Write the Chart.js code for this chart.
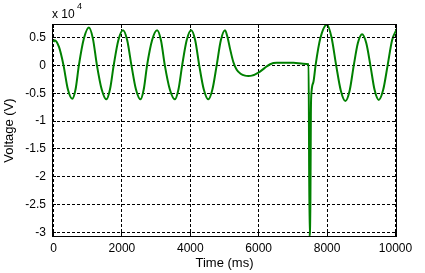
<!DOCTYPE html>
<html>
<head>
<meta charset="utf-8">
<script src="https://cdn.jsdelivr.net/npm/chart.js@4/dist/chart.umd.min.js"></script>
<style>
  html, body { margin: 0; padding: 0; background: #fff; }
  canvas { display: block; }
</style>
</head>
<body>
<canvas id="grafico" width="425" height="273"></canvas>
<script>
// tempo (ms)
var tempo = [
  0, 30, 160, 293, 420, 548, 645, 742, 888, 1035,
  1152, 1270, 1408, 1545, 1652, 1760, 1896, 2032,
  2155, 2279, 2410, 2542, 2639, 2736, 2882, 3029,
  3142, 3255, 3400, 3548, 3655, 3762, 3894, 4026,
  4143, 4261, 4393, 4525, 4648, 4771, 4893, 5015,
  5090, 5161, 5258, 5357, 5470, 5601, 5700, 5797, 5992, 6170, 6334, 6530,
  7018, 7300, 7458, 7487, 7512, 7525, 7535,
  7600, 7663, 7800, 7996, 8130, 8265, 8400, 8534,
  8660, 8780, 8900, 9023, 9145, 9266, 9388, 9510,
  9640, 9770, 9900, 10044
];
// tensione (x 10^4 V)
var tensione = [
  0.42, 0.45, 0.33, 0, -0.43, -0.60, -0.43, 0, 0.48, 0.68,
  0.48, 0, -0.43, -0.61, -0.43, 0, 0.45, 0.63,
  0.45, 0, -0.43, -0.61, -0.43, 0, 0.45, 0.63,
  0.45, 0, -0.43, -0.61, -0.43, 0, 0.45, 0.63,
  0.45, 0, -0.43, -0.61, -0.43, 0, 0.45, 0.63,
  0.50, 0.30, 0.06, -0.08, -0.15, -0.185, -0.19, -0.185, -0.13, -0.05, 0.02, 0.045,
  0.045, 0.03, 0.02, -3.07, -2.43, -0.90, -0.56,
  -0.30, 0, 0.48, 0.73, 0.50, 0, -0.45, -0.64,
  -0.45, 0, 0.40, 0.56, 0.40, 0, -0.44, -0.62,
  -0.44, 0, 0.45, 0.66
];
var tickX = [0, 2000, 4000, 6000, 8000, 10000];
var tickY = [-3, -2.5, -2, -1.5, -1, -0.5, 0, 0.5];

var FONT = '"Liberation Sans", Arial, sans-serif';

function punti(xs, ys) {
  var out = [];
  for (var i = 0; i < xs.length; i++) out.push({ x: xs[i], y: ys[i] });
  return out;
}

// cornice, tacche e "x 10^4"
var cornice = {
  id: 'cornice',
  afterDraw: function (chart) {
    var ctx = chart.ctx, a = chart.chartArea;
    var sx = chart.scales.x, sy = chart.scales.y;
    ctx.save();
    ctx.strokeStyle = '#000';
    ctx.lineWidth = 1;
    ctx.setLineDash([]);
    ctx.strokeRect(a.left + 0.5, a.top + 0.5, a.right - a.left - 1, a.bottom - a.top - 1);
    ctx.beginPath();
    tickX.forEach(function (v) {
      var p = Math.floor(sx.getPixelForValue(v)) + 0.5;
      ctx.moveTo(p, a.bottom - 1); ctx.lineTo(p, a.bottom - 5);
      ctx.moveTo(p, a.top); ctx.lineTo(p, a.top + 4);
    });
    tickY.forEach(function (v) {
      var p = Math.floor(sy.getPixelForValue(v)) + 0.5;
      ctx.moveTo(a.left, p); ctx.lineTo(a.left + 4, p);
      ctx.moveTo(a.right - 1, p); ctx.lineTo(a.right - 5, p);
    });
    ctx.stroke();
    ctx.fillStyle = '#000';
    ctx.textBaseline = 'alphabetic';
    ctx.textAlign = 'left';
    ctx.font = '12px ' + FONT;
    ctx.fillText('x 10', 52, 18);
    ctx.font = '9px ' + FONT;
    ctx.fillText('4', 77, 9);
    ctx.restore();
  }
};

new Chart(document.getElementById('grafico'), {
  type: 'line',
  data: {
    datasets: [{
      data: punti(tempo, tensione),
      borderColor: '#008000',
      borderWidth: 2,
      pointRadius: 0,
      fill: false,
      cubicInterpolationMode: 'monotone'
    }]
  },
  options: {
    responsive: false,
    animation: false,
    layout: { padding: { top: 24, right: 28, left: 0, bottom: 0 } },
    plugins: { legend: { display: false }, tooltip: { enabled: false } },
    scales: {
      x: {
        type: 'linear',
        min: -44,
        max: 10044,
        afterFit: function (s) { s.height = 36; },
        afterBuildTicks: function (s) { s.ticks = tickX.map(function (v) { return { value: v }; }); },
        grid: { color: '#000', drawTicks: false },
        border: { display: false, dash: [3, 2] },
        ticks: {
          color: '#000', padding: 4, maxRotation: 0,
          font: { family: FONT, size: 12 },
          callback: function (v) { return String(v); }
        },
        title: {
          display: true, text: 'Time (ms)', color: '#000',
          font: { family: FONT, size: 13 }, padding: { top: 0, bottom: 2 }
        }
      },
      y: {
        min: -3.081,
        max: 0.742,
        afterFit: function (s) { s.width = 52; },
        afterBuildTicks: function (s) { s.ticks = tickY.map(function (v) { return { value: v }; }); },
        grid: { color: '#000', drawTicks: false },
        border: { display: false, dash: [3, 2] },
        ticks: {
          color: '#000', padding: 6,
          font: { family: FONT, size: 12 },
          callback: function (v) { return String(v); }
        },
        title: {
          display: true, text: 'Voltage (V)', color: '#000',
          font: { family: FONT, size: 13 }, padding: { top: 2, bottom: 0 }
        }
      }
    }
  },
  plugins: [cornice]
});
</script>
</body>
</html>
